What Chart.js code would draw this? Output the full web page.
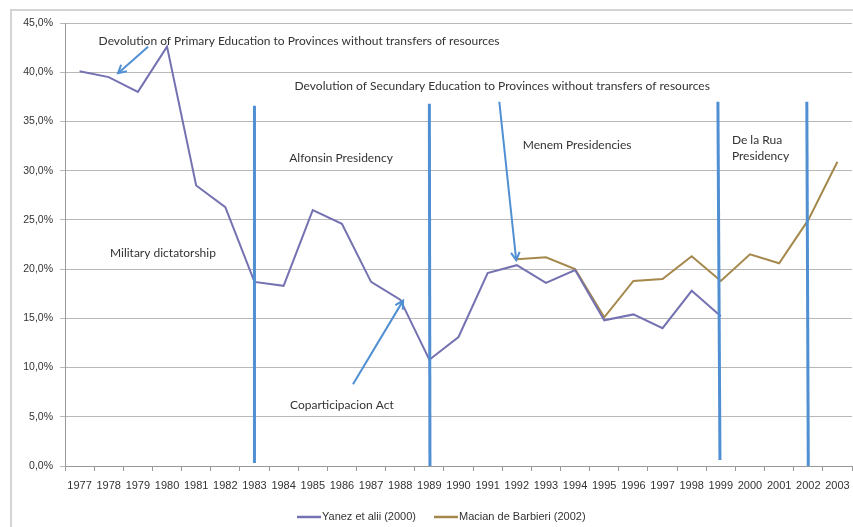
<!DOCTYPE html>
<html>
<head>
<meta charset="utf-8">
<script src="https://cdn.jsdelivr.net/npm/chart.js@4"></script>
<style>
  html, body { margin: 0; padding: 0; background: #fff; }
  #wrap { width: 853px; height: 527px; }
</style>
</head>
<body>
<div id="wrap"><canvas id="myChart" width="853" height="527"></canvas></div>
<script>
    // data (percent)
    const years = ["1977", "1978", "1979", "1980", "1981", "1982", "1983", "1984", "1985",
      "1986", "1987", "1988", "1989", "1990", "1991", "1992", "1993", "1994", "1995",
      "1996", "1997", "1998", "1999", "2000", "2001", "2002", "2003"];
    const yanez = [40.1, 39.5, 38.0, 42.6, 28.5, 26.3, 18.7, 18.3, 26.0,
      24.6, 18.7, 16.9, 10.8, 13.1, 19.6, 20.4, 18.6, 19.9, 14.8,
      15.4, 14.0, 17.8, 15.2, null, null, null, null];
    const macian = [null, null, null, null, null, null, null, null, null,
      null, null, null, null, null, null, 21.0, 21.2, 20.0, 15.1,
      18.8, 19.0, 21.3, 18.8, 21.5, 20.6, 25.0, 30.9];
    const seriesNames = ["Yanez et alii (2000)", "Macian de Barbieri (2002)"];
    const yTicks = [0, 5, 10, 15, 20, 25, 30, 35, 40, 45];

    // annotations, positions in category index / percent
    const periodLines = [
      { x1: 6, y1: 36.6, x2: 6, y2: 0.3 },
      { x1: 12, y1: 36.8, x2: 12.02, y2: 0 },
      { x1: 21.9, y1: 37.0, x2: 21.97, y2: 0.6 },
      { x1: 24.95, y1: 37.0, x2: 25.0, y2: 0 }
    ];
    const arrows = [
      { x1: 2.35, y1: 42.6, x2: 1.32, y2: 39.9 },
      { x1: 14.4, y1: 37.0, x2: 14.98, y2: 20.9 },
      { x1: 9.38, y1: 8.3, x2: 11.1, y2: 16.8 }
    ];
    const notes = [
      { text: "Devolution of Primary Education to Provinces without transfers of resources", x: 7.53, y: 43.2, align: "center" },
      { text: "Devolution of Secundary Education to Provinces without transfers of resources", x: 14.5, y: 38.6, align: "center" },
      { text: "Alfonsin Presidency", x: 8.97, y: 31.3, align: "center" },
      { text: "Menem Presidencies", x: 17.07, y: 32.6, align: "center" },
      { text: "De la Rua", x: 22.38, y: 33.1, align: "left" },
      { text: "Presidency", x: 22.38, y: 31.5, align: "left" },
      { text: "Military dictatorship", x: 2.86, y: 21.6, align: "center" },
      { text: "Coparticipacion Act", x: 9.0, y: 6.2, align: "center" }
    ];

    const purple = "#7572b2";
    const brown = "#a5884c";
    const blue = "#4f8fd2";
    const axisFont = "'Liberation Sans', Arial, sans-serif";

    const annotations = {
      id: "annotations",
      afterDatasetsDraw(chart) {
        const ctx = chart.ctx;
        const xs = chart.scales.x;
        const ys = chart.scales.y;
        const px = v => xs.getPixelForValue(v);
        const py = v => ys.getPixelForValue(v);

        ctx.save();
        ctx.strokeStyle = blue;
        ctx.lineCap = "butt";
        ctx.lineWidth = 3;
        periodLines.forEach(l => {
          ctx.beginPath();
          ctx.moveTo(px(l.x1), py(l.y1));
          ctx.lineTo(px(l.x2), py(l.y2));
          ctx.stroke();
        });

        ctx.lineWidth = 2;
        ctx.lineJoin = "miter";
        arrows.forEach(a => {
          const x1 = px(a.x1), y1 = py(a.y1), x2 = px(a.x2), y2 = py(a.y2);
          ctx.beginPath();
          ctx.moveTo(x1, y1);
          ctx.lineTo(x2, y2);
          ctx.stroke();
          const ang = Math.atan2(y2 - y1, x2 - x1);
          const len = 9, spread = 0.5;
          ctx.beginPath();
          ctx.moveTo(x2 - len * Math.cos(ang - spread), y2 - len * Math.sin(ang - spread));
          ctx.lineTo(x2, y2);
          ctx.lineTo(x2 - len * Math.cos(ang + spread), y2 - len * Math.sin(ang + spread));
          ctx.stroke();
        });

        ctx.fillStyle = "#333";
        ctx.font = "12px Lato, 'Open Sans', sans-serif";
        ctx.textBaseline = "middle";
        notes.forEach(n => {
          ctx.textAlign = n.align;
          ctx.fillText(n.text, px(n.x), py(n.y));
        });

        // legend
        ctx.font = "11px " + axisFont;
        ctx.textAlign = "left";
        ctx.lineWidth = 2.5;
        const legendY = 517;
        [[297, purple], [434, brown]].forEach((it, i) => {
          ctx.strokeStyle = it[1];
          ctx.beginPath();
          ctx.moveTo(it[0], legendY);
          ctx.lineTo(it[0] + 24, legendY);
          ctx.stroke();
          ctx.fillText(seriesNames[i], it[0] + 25, legendY);
        });

        // chart frame
        ctx.strokeStyle = "#d4d4d4";
        ctx.lineWidth = 2;
        ctx.strokeRect(11, 10, 900, 600);
        ctx.restore();
      }
    };

    const ctx = document.getElementById("myChart").getContext("2d");
    const chart = new Chart(ctx, {
      type: "line",
      data: {
        labels: years,
        datasets: [
          { label: seriesNames[0], data: yanez, borderColor: purple, backgroundColor: purple,
            borderWidth: 2, pointRadius: 0, tension: 0, spanGaps: false },
          { label: seriesNames[1], data: macian, borderColor: brown, backgroundColor: brown,
            borderWidth: 2, pointRadius: 0, tension: 0, spanGaps: false }
        ]
      },
      options: {
        responsive: false,
        animation: false,
        layout: { padding: { top: 23, right: 1, left: 0, bottom: 0 } },
        plugins: {
          legend: { display: false },
          tooltip: { enabled: false }
        },
        scales: {
          x: {
            type: "category",
            offset: true,
            grid: { offset: true, drawOnChartArea: false, drawTicks: true, tickLength: 5, color: "#999" },
            border: { color: "#999" },
            ticks: { font: { family: axisFont, size: 11 }, color: "#333", padding: 8, maxRotation: 0, autoSkip: false },
            afterFit(s) {
              s.height = 61;
              s.paddingLeft = 0;
              s.paddingRight = 0;
            }
          },
          y: {
            min: 0,
            max: 45,
            afterBuildTicks(s) { s.ticks = yTicks.map(v => ({ value: v })); },
            grid: { color: "#b8b8b8", tickLength: 5 },
            border: { color: "#999" },
            ticks: {
              font: { family: axisFont, size: 10.5 }, color: "#333", padding: 7,
              callback: v => v.toFixed(1).replace(".", ",") + "%"
            },
            afterFit(s) { s.width = 65; }
          }
        }
      },
      plugins: [annotations]
    });
</script>
</body>
</html>
